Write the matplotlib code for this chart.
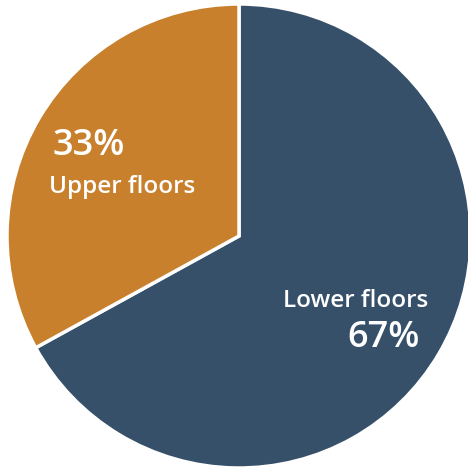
import matplotlib
matplotlib.use("Agg")
import matplotlib.pyplot as plt

labels = ["Lower floors", "Upper floors"]
values = [67, 33]
colors = ["#36506A", "#C8802C"]

W, H = 468, 469
fig = plt.figure(figsize=(W / 100, H / 100), dpi=100)
cx, cy, r = 239, 236, 232
ax = fig.add_axes([(cx - r) / W, (H - cy - r) / H, 2 * r / W, 2 * r / H])
ax.pie(values, colors=colors, startangle=90, counterclock=False, radius=1,
       wedgeprops=dict(edgecolor="white", linewidth=2.5))
ax.set_xlim(-1, 1)
ax.set_ylim(-1, 1)
ax.set_aspect("equal")
ax.axis("off")

def px(x, y):
    return (x - cx) / r, (cy - y) / r

font = "Open Sans"
w = "semibold"
x, y = px(52, 155)
ax.text(x, y, f"{values[1]}%", color="white", fontsize=26, fontweight=w,
        family=font, ha="left", va="baseline")
x, y = px(49, 193)
ax.text(x, y, labels[1], color="white", fontsize=17.5, fontweight=w,
        family=font, ha="left", va="baseline")
x, y = px(428, 307)
ax.text(x, y, labels[0], color="white", fontsize=17.5, fontweight=w,
        family=font, ha="right", va="baseline")
x, y = px(420, 347)
ax.text(x, y, f"{values[0]}%", color="white", fontsize=26, fontweight=w,
        family=font, ha="right", va="baseline")

fig.savefig("out.png", dpi=100)
